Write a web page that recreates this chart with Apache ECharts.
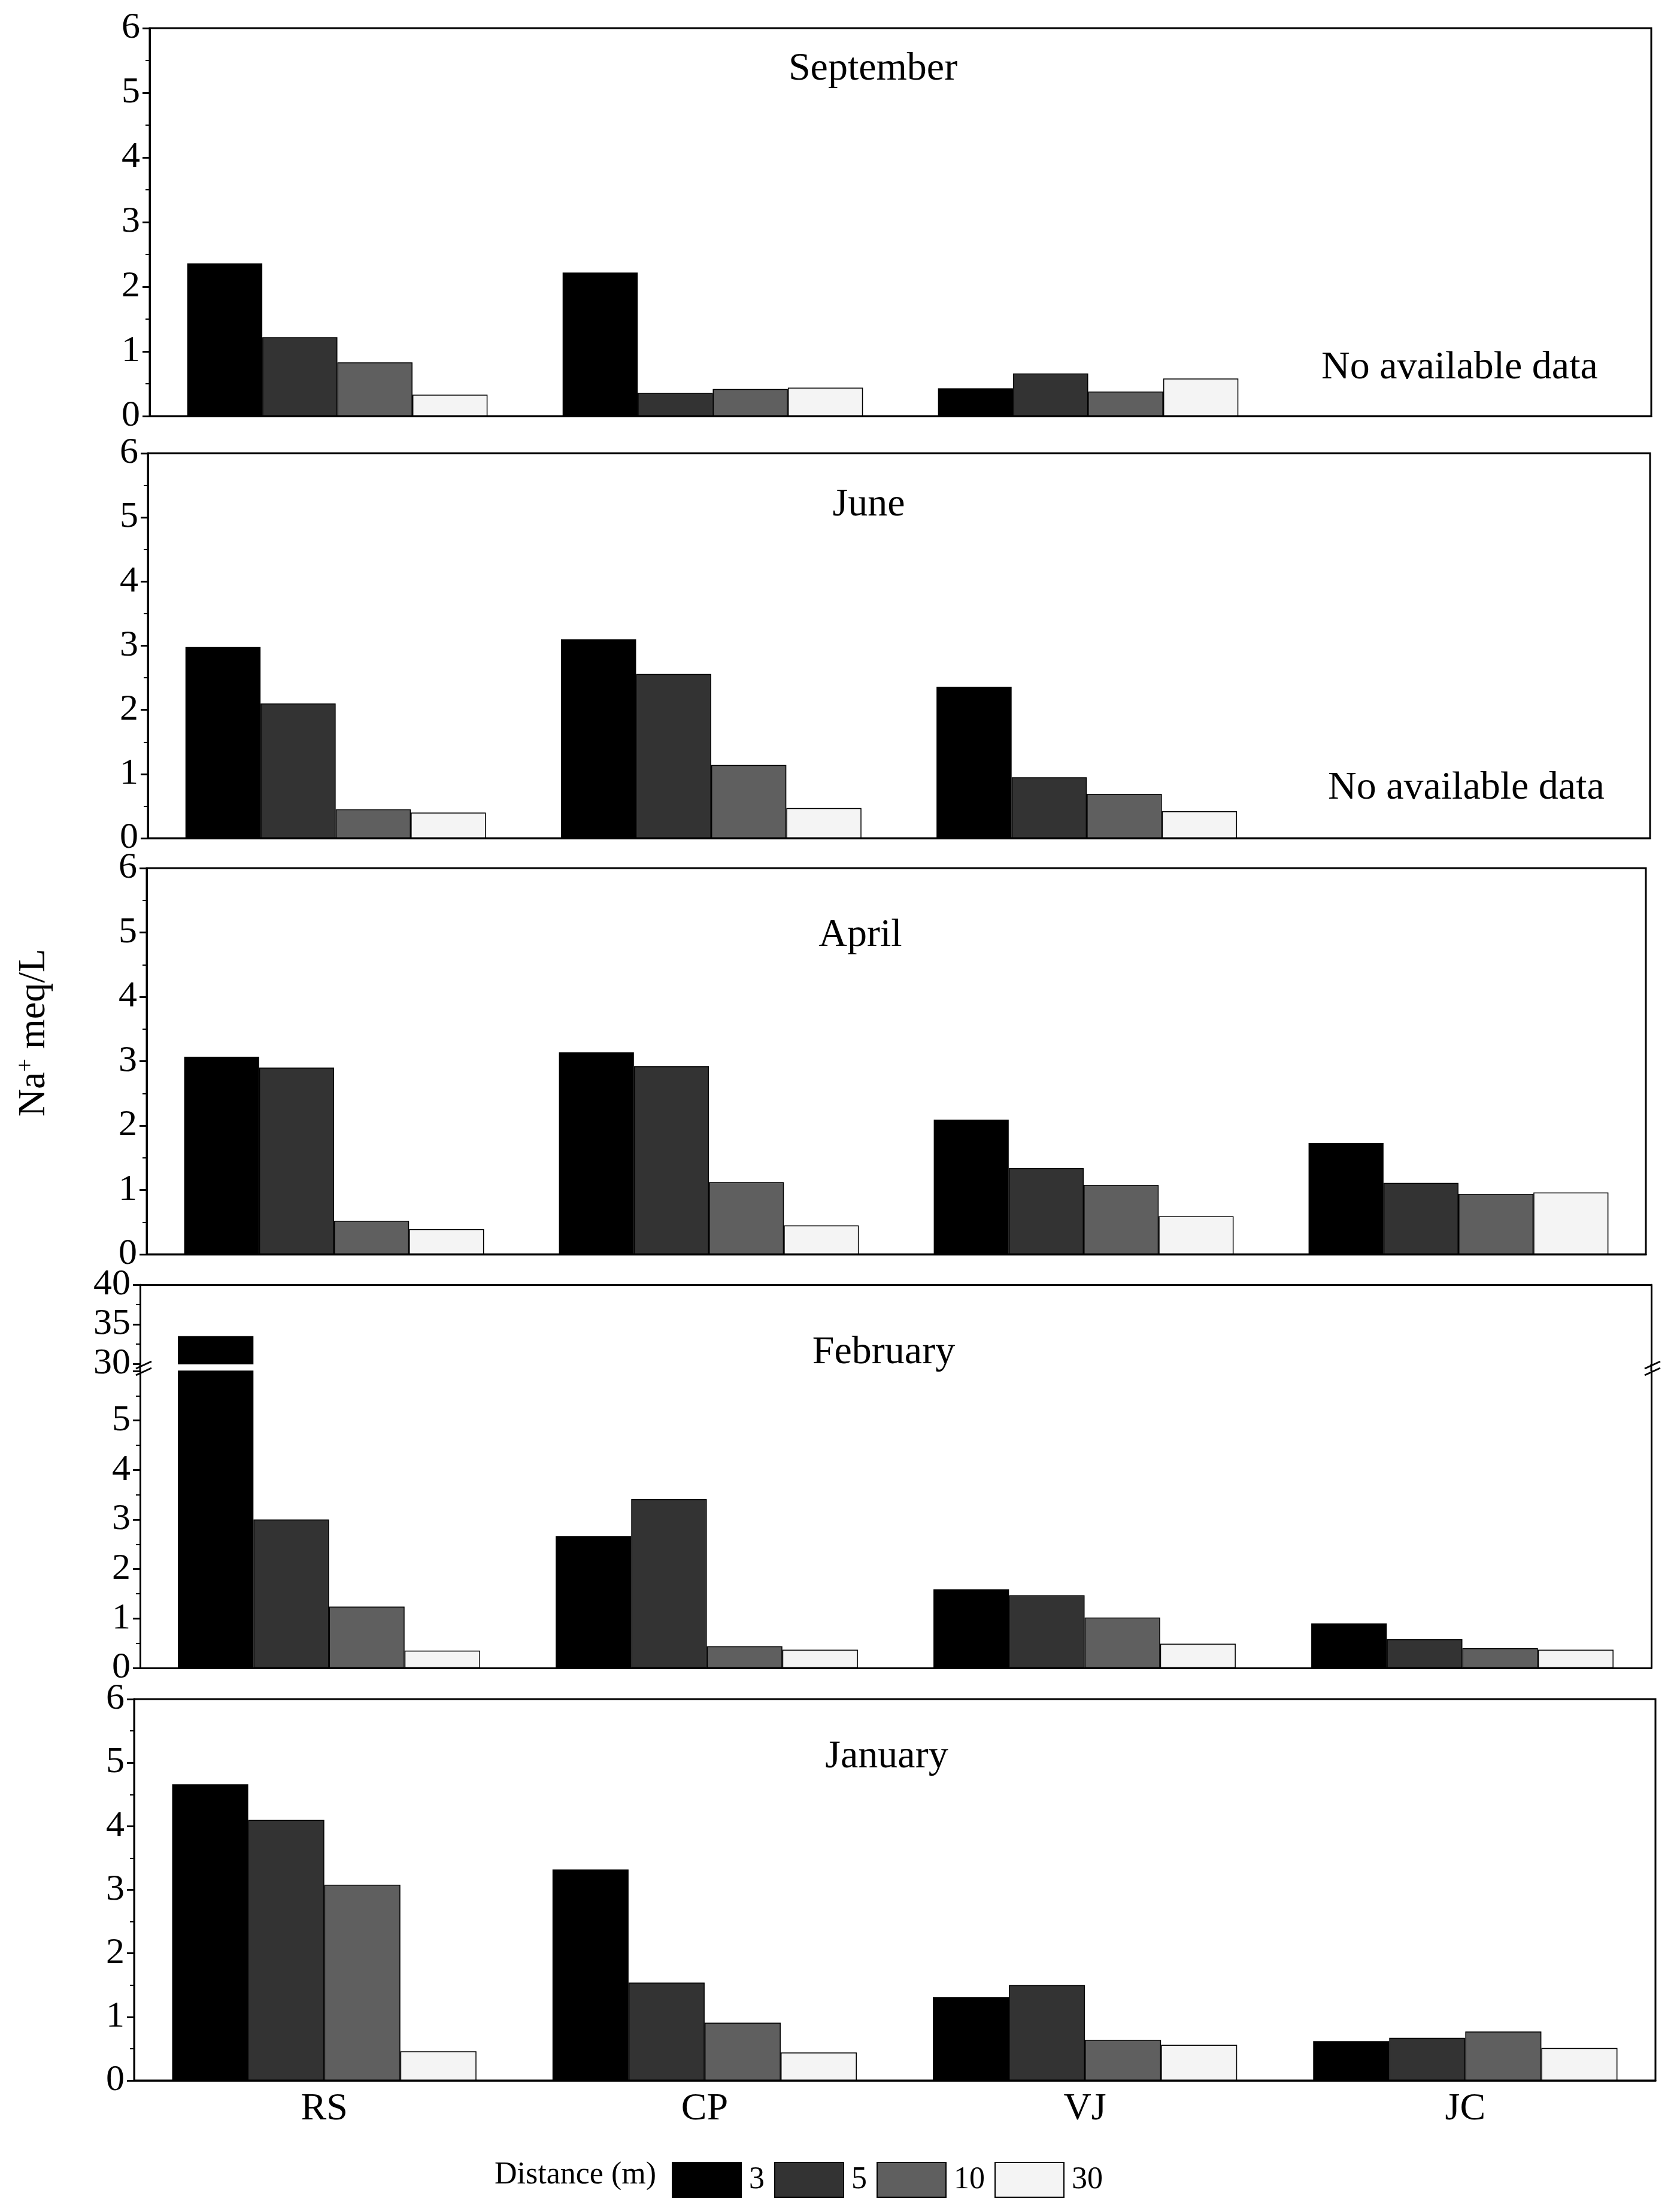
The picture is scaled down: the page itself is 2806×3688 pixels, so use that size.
<!DOCTYPE html>
<html>
<head>
<meta charset="utf-8">
<script src="https://cdn.jsdelivr.net/npm/echarts@6/dist/echarts.min.js"></script>
<style>
html,body{margin:0;padding:0;background:#fff;}
#chart{width:2806px;height:3688px;}
</style>
</head>
<body>
<div id="chart"></div>
<script>
// ---- data ----
const categories = ['RS', 'CP', 'VJ', 'JC'];
const distances = ['3', '5', '10', '30'];
const months = ['September', 'June', 'April', 'February', 'January'];
// rows: distance 3, 5, 10, 30 m ; columns: RS, CP, VJ, JC
const september = [[2.36, 2.22, 0.43, null], [1.22, 0.36, 0.66, null], [0.83, 0.42, 0.38, null], [0.33, 0.44, 0.58, null]];
const june = [[2.98, 3.10, 2.36, null], [2.10, 2.56, 0.95, null], [0.45, 1.14, 0.69, null], [0.40, 0.47, 0.42, null]];
const april = [[3.07, 3.14, 2.09, 1.73], [2.90, 2.92, 1.34, 1.11], [0.52, 1.12, 1.08, 0.94], [0.39, 0.45, 0.59, 0.96]];
const february = [[33.5, 2.66, 1.59, 0.90], [3.00, 3.41, 1.47, 0.58], [1.24, 0.44, 1.02, 0.40], [0.35, 0.37, 0.49, 0.37]];
const january = [[4.66, 3.32, 1.31, 0.62], [4.10, 1.54, 1.50, 0.67], [3.08, 0.91, 0.64, 0.77], [0.46, 0.44, 0.56, 0.51]];
const lowTicks = [0, 6, 1];      // min, max, interval
const highTicks = [30, 40, 5];   // broken-axis upper segment

// ---- styles ----
const colors = ['#000000', '#333333', '#5f5f5f', '#f4f4f4'];
const FONT = 'Liberation Serif';
const FS = 62;

const chart = echarts.init(document.getElementById('chart'), null, {renderer: 'canvas'});

// grid layout: [left, right, top, height]
const layouts = [
  [250, 48, 47, 648],    // September
  [247, 50, 757, 643],   // June
  [245, 57, 1450, 645],  // April
  [234, 48, 2146, 132],  // February upper
  [234, 48, 2290, 496],  // February lower
  [224, 41, 2838, 637]   // January
];
const gridData = [september, june, april, february, february, january];

const grid = [], xAxis = [], yAxis = [], series = [];
layouts.forEach((l, i) => {
  const isFebUp = i === 3, isFebLow = i === 4, isLast = i === 5;
  grid.push({left: l[0], right: l[1], top: l[2], height: l[3],
    show: !(isFebUp || isFebLow), borderColor: '#000', borderWidth: 3, backgroundColor: 'transparent'});
  xAxis.push({
    type: 'category', gridIndex: i, data: categories,
    position: isFebUp ? 'top' : 'bottom',
    axisLine: {show: true, lineStyle: {color: '#000', width: 3}},
    axisTick: {show: false},
    axisLabel: {show: isLast, fontFamily: FONT, fontSize: 64, color: '#000', margin: 16},
    splitLine: {show: false}
  });
  const t = isFebUp ? highTicks : lowTicks;
  yAxis.push({
    type: 'value', gridIndex: i, min: t[0], max: t[1], interval: t[2],
    axisLine: {show: true, lineStyle: {color: '#000', width: 3}},
    axisTick: {show: true, length: 12, lineStyle: {color: '#000', width: 3}},
    minorTick: {show: true, splitNumber: 2, length: 7, lineStyle: {color: '#000', width: 2}},
    axisLabel: {fontFamily: FONT, fontSize: FS, color: '#000', margin: 16, showMaxLabel: !isFebLow},
    splitLine: {show: false}
  });
  if (isFebUp || isFebLow) {
    yAxis.push({
      type: 'value', gridIndex: i, position: 'right', min: t[0], max: t[1], interval: t[2],
      axisLine: {show: true, lineStyle: {color: '#000', width: 3}},
      axisTick: {show: false}, axisLabel: {show: false}, splitLine: {show: false}
    });
  }
  const yIdx = yAxis.length - ((isFebUp || isFebLow) ? 2 : 1);
  const data = gridData[i];
  distances.forEach((d, k) => {
    let vals = data[k].map(v => v === null ? '-' : v);
    if (isFebUp) vals = data[k].map(v => (v !== null && v > highTicks[0]) ? v : '-');
    series.push({
      name: d, type: 'bar', xAxisIndex: i, yAxisIndex: yIdx,
      data: vals, barGap: '0%', barCategoryGap: '20%',
      itemStyle: {color: colors[k], borderColor: '#000', borderWidth: 1.5},
      emphasis: {disabled: true}, animation: false
    });
  });
});

// month titles
const titlePos = [[1453, 116], [1446, 844], [1432, 1563], [1471, 2260], [1476, 2935]];
const title = months.map((m, i) => ({
  text: m, left: titlePos[i][0], top: titlePos[i][1] - 38, textAlign: 'center',
  textStyle: {fontFamily: FONT, fontSize: 66, fontWeight: 'normal', color: '#000'}
}));

const breakMark = (x, y) => ({type: 'line', shape: {x1: x - 13, y1: y + 6, x2: x + 13, y2: y - 6},
  style: {stroke: '#000', lineWidth: 3}, z: 100});

const graphic = [
  // continuation of the frame through the axis break
  {type: 'line', shape: {x1: 234, y1: 2278, x2: 234, y2: 2290}, style: {stroke: '#000', lineWidth: 3}},
  {type: 'line', shape: {x1: 2758, y1: 2278, x2: 2758, y2: 2290}, style: {stroke: '#000', lineWidth: 3}},
  breakMark(240, 2280), breakMark(240, 2291),
  breakMark(2760, 2280), breakMark(2760, 2291),
  {type: 'text', left: 2207, top: 582,
   style: {text: 'No available data', font: '66px "Liberation Serif"', fill: '#000'}},
  {type: 'text', left: 2218, top: 1284,
   style: {text: 'No available data', font: '66px "Liberation Serif"', fill: '#000'}},
  {type: 'text', x: 57, y: 1725, rotation: Math.PI / 2,
   style: {text: '{a|Na}{s|+}{a| meq/L}', align: 'center', verticalAlign: 'middle',
     rich: {a: {fontFamily: FONT, fontSize: 64, fill: '#000'},
            s: {fontFamily: FONT, fontSize: 40, fill: '#000', verticalAlign: 'top', padding: [0, 0, 28, 0]}}}},
  {type: 'text', left: 826, top: 3607,
   style: {text: 'Distance (m)', font: '52px "Liberation Serif"', fill: '#000'}}
];

const option = {
  backgroundColor: '#fff',
  animation: false,
  title: title,
  grid: grid, xAxis: xAxis, yAxis: yAxis, series: series,
  legend: {
    data: distances, left: 1117, top: 3606, itemWidth: 115, itemHeight: 58, itemGap: 16,
    icon: 'rect', selectedMode: false,
    textStyle: {fontFamily: FONT, fontSize: 52, color: '#000', padding: [0, 0, 0, 8]}
  },
  graphic: graphic
};
chart.setOption(option);
</script>
</body>
</html>
